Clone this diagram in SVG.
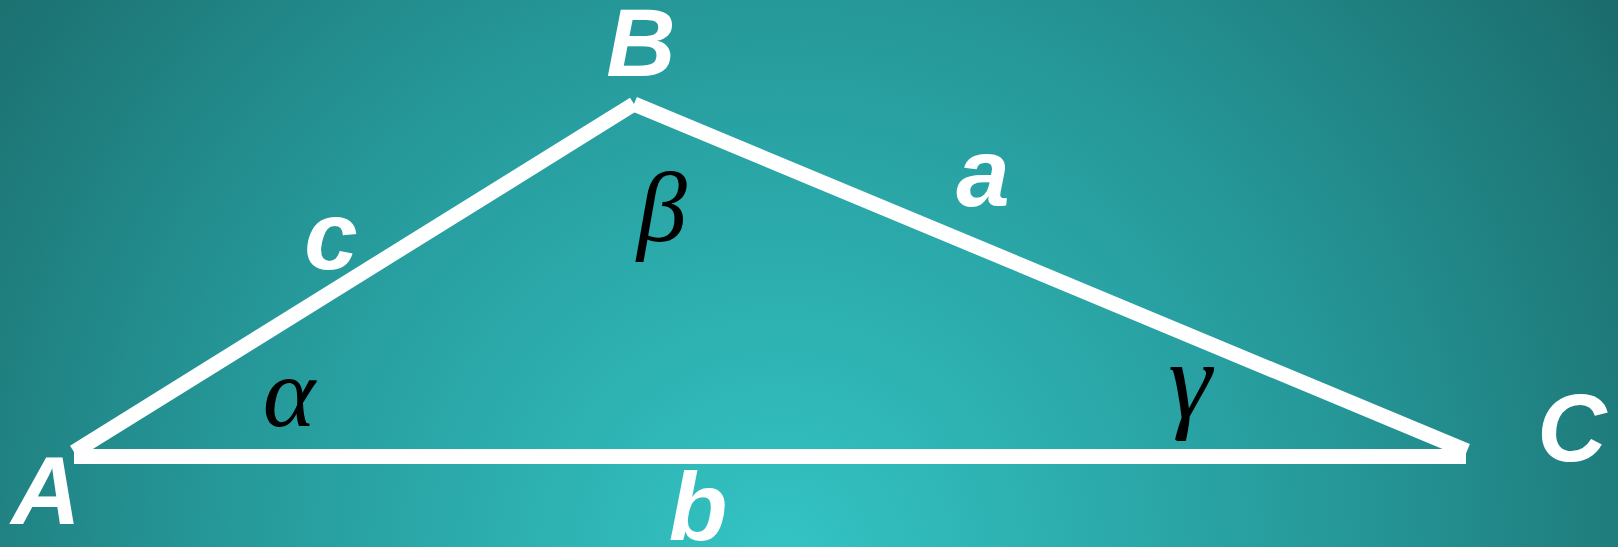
<svg xmlns="http://www.w3.org/2000/svg" width="1618" height="547" viewBox="0 0 1618 547">
<defs>
<radialGradient id="bg" gradientUnits="userSpaceOnUse" cx="780" cy="560" r="1000">
<stop offset="0" stop-color="#34c4c4"/>
<stop offset="0.55" stop-color="#26999a"/>
<stop offset="1" stop-color="#1b6c6c"/>
</radialGradient>
<style>
.side{stroke:#ffffff;stroke-width:15;fill:none;stroke-linecap:butt}
.lbl{font-family:"Liberation Sans",Arial,sans-serif;font-weight:bold;font-style:italic;font-size:96px;fill:#ffffff;text-anchor:middle}
.ang{font-family:"Liberation Serif","Times New Roman",serif;font-style:italic;font-size:100px;fill:#000000;text-anchor:middle}
</style>
</defs>
<rect width="1618" height="547" fill="url(#bg)"/>
<g id="connectors">
<line class="side" x1="74" y1="456.5" x2="1466" y2="456.5"/>
<line class="side" x1="74" y1="452" x2="634" y2="104"/>
<line class="side" x1="634" y1="104" x2="1467" y2="451"/>
</g>
<g id="A"><text class="lbl" x="46" y="524">A</text></g>
<g id="B"><text class="lbl" x="641" y="76">B</text></g>
<g id="C"><text class="lbl" x="1572" y="461">C</text></g>
<g id="side-c"><text class="lbl" x="331" y="269">c</text></g>
<g id="side-a"><text class="lbl" x="983" y="206">a</text></g>
<g id="side-b"><text class="lbl" x="698" y="540">b</text></g>
<g id="alpha"><text class="ang" x="289" y="426">α</text></g>
<g id="beta"><text class="ang" x="662" y="241">β</text></g>
<g id="gamma"><text class="ang" style="font-size:110px" x="1190" y="418">γ</text></g>
</svg>
